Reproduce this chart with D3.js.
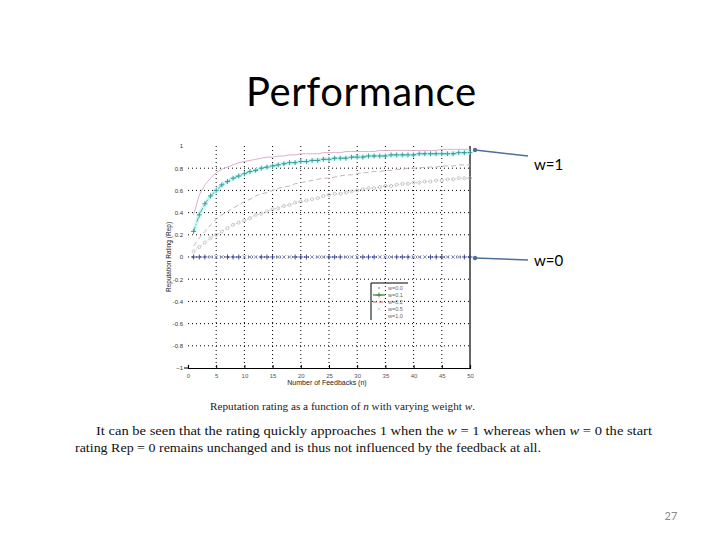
<!DOCTYPE html>
<html>
<head>
<meta charset="utf-8">
<script src="https://cdn.jsdelivr.net/npm/d3@7"></script>
<style>
  body { margin: 0; background: #fff; }
  svg { display: block; }
</style>
</head>
<body>
<svg id="slide" width="720" height="540"></svg>
<script>
// feedback counts n
const feedbacks = [1,2,3,4,5,6,7,8,9,10,11,12,13,14,15,16,17,18,19,20,21,22,23,24,25,
  26,27,28,29,30,31,32,33,34,35,36,37,38,39,40,41,42,43,44,45,46,47,48,49,50];

// rating values
const repW0 = [0,0,0,0,0,0,0,0,0,0,0,0,0,0,0,0,0,0,0,0,0,0,0,0,0,
  0,0,0,0,0,0,0,0,0,0,0,0,0,0,0,0,0,0,0,0,0,0,0,0,0];
const repCircles = [.05,.09,.13,.17,.20,.23,.26,.29,.31,.33,.35,.38,.39,.41,.43,.44,.46,.47,.49,.50,
  .51,.52,.53,.55,.56,.57,.57,.58,.59,.60,.61,.62,.62,.63,.64,.64,.65,.66,.66,.67,
  .67,.68,.68,.69,.69,.70,.70,.71,.71,.71];
const repDashed = [.10,.17,.23,.29,.34,.38,.41,.44,.47,.50,.52,.55,.57,.58,.60,.62,.63,.64,.66,.67,
  .68,.69,.70,.71,.71,.72,.73,.74,.74,.75,.76,.76,.77,.77,.78,.78,.79,.79,.80,.80,
  .80,.81,.81,.81,.82,.82,.82,.83,.83,.83];
const repCyan = [.23,.38,.48,.55,.60,.65,.68,.71,.73,.75,.77,.78,.80,.81,.82,.83,.84,.85,.85,.86,
  .86,.87,.87,.88,.88,.89,.89,.89,.90,.90,.90,.91,.91,.91,.91,.92,.92,.92,.92,.92,
  .93,.93,.93,.93,.93,.93,.93,.94,.94,.94];
const repPink = [.38,.56,.65,.71,.76,.79,.81,.83,.85,.86,.87,.88,.89,.90,.90,.91,.91,.92,.92,.93,
  .93,.93,.93,.94,.94,.94,.94,.95,.95,.95,.95,.95,.95,.96,.96,.96,.96,.96,.96,.96,
  .96,.96,.96,.96,.97,.97,.97,.97,.97,.97];

const xTicks = [0,5,10,15,20,25,30,35,40,45,50];
const yTicks = [-1,-0.8,-0.6,-0.4,-0.2,0,0.2,0.4,0.6,0.8,1];
const yTickLabels = ["\u22121","-0.8","-0.6","-0.4","-0.2","0","0.2","0.4","0.6","0.8","1"];
const legendLabels = ["w=0.0","w=0.1","w=0.2","w=0.5","w=1.0"];

const svg = d3.select("#slide");

// title
svg.append("text")
  .attr("x", 361).attr("y", 106)
  .attr("text-anchor", "middle")
  .attr("font-family", "Lato, 'Open Sans', sans-serif")
  .attr("font-size", 40)
  .attr("textLength", 230)
  .attr("fill", "#000")
  .text("Performance");

// scales
const x = d3.scaleLinear().domain([0, 50]).range([188, 470]);
const y = d3.scaleLinear().domain([-1, 1]).range([368, 146]);

const plot = svg.append("g");

// dotted grid
plot.selectAll("line.vgrid")
  .data(xTicks.slice(1, -1))
  .enter().append("line")
  .attr("x1", d => x(d)).attr("x2", d => x(d))
  .attr("y1", y(1)).attr("y2", y(-1))
  .attr("stroke", "#000").attr("stroke-width", 1)
  .attr("stroke-dasharray", "1,3");

plot.selectAll("line.hgrid")
  .data(yTicks.slice(1, -1))
  .enter().append("line")
  .attr("x1", x(0)).attr("x2", x(50))
  .attr("y1", d => y(d)).attr("y2", d => y(d))
  .attr("stroke", "#000").attr("stroke-width", 1)
  .attr("stroke-dasharray", "1,3");

// bottom axis
const xAxis = plot.append("g")
  .attr("transform", `translate(0,${y(-1)})`)
  .call(d3.axisBottom(x).tickValues(xTicks).tickSize(-3).tickPadding(6));
xAxis.select(".domain").attr("stroke", "#000").attr("stroke-width", 1.2);
xAxis.selectAll("text").attr("font-family", "'Liberation Sans', Arial").attr("font-size", 6).attr("fill", "#555");

// left axis labels only
const yAxis = plot.append("g")
  .attr("transform", `translate(${x(0)},0)`)
  .call(d3.axisLeft(y).tickValues(yTicks).tickSize(0).tickPadding(5)
    .tickFormat((d, i) => yTickLabels[i]));
yAxis.select(".domain").remove();
yAxis.selectAll("text").attr("font-family", "'Liberation Sans', Arial").attr("font-size", 6).attr("fill", "#333");
// small tick at -1
plot.append("line")
  .attr("x1", x(0) - 4).attr("x2", x(0))
  .attr("y1", y(-1)).attr("y2", y(-1))
  .attr("stroke", "#000");

// right spine
plot.append("line")
  .attr("x1", x(50)).attr("x2", x(50))
  .attr("y1", y(1)).attr("y2", y(-1))
  .attr("stroke", "#000").attr("stroke-width", 1.2);

// axis titles
plot.append("text")
  .attr("x", 327).attr("y", 385)
  .attr("text-anchor", "middle")
  .attr("font-family", "'Liberation Sans', Arial").attr("font-size", 7)
  .attr("fill", "#222")
  .text("Number of Feedbacks (n)");

plot.append("text")
  .attr("transform", "translate(171,257) rotate(-90)")
  .attr("text-anchor", "middle")
  .attr("font-family", "'Liberation Sans', Arial").attr("font-size", 6.5)
  .attr("fill", "#222")
  .text("Reputation Rating (Rep)");

const line = vals => d3.line()
  .x((d, i) => x(feedbacks[i]))
  .y(d => y(d))(vals);

// curves
plot.append("path").attr("d", line(repPink))
  .attr("fill", "none").attr("stroke", "#dcaed0").attr("stroke-width", 1);

plot.append("path").attr("d", line(repDashed))
  .attr("fill", "none").attr("stroke", "#c9b3ba").attr("stroke-width", 1)
  .attr("stroke-dasharray", "5,3");

plot.append("path").attr("d", line(repCircles))
  .attr("fill", "none").attr("stroke", "#aaa").attr("stroke-width", 0.8)
  .attr("stroke-dasharray", "1,2");
plot.selectAll("circle.c")
  .data(repCircles).enter().append("circle")
  .attr("cx", (d, i) => x(feedbacks[i])).attr("cy", d => y(d))
  .attr("r", 1.6).attr("fill", "none").attr("stroke", "#a9b0a6").attr("stroke-width", 0.6);

// cyan with halo
plot.append("path").attr("d", line(repCyan))
  .attr("fill", "none").attr("stroke", "#d2f7f7").attr("stroke-width", 4);
plot.append("path").attr("d", line(repCyan))
  .attr("fill", "none").attr("stroke", "#3aa8a2").attr("stroke-width", 0.9)
  .attr("stroke-dasharray", "5,2,1,2");
const plusPath = "M-2.5,0H2.5M0,-2.5V2.5";
plot.selectAll("path.cp")
  .data(repCyan).enter().append("path")
  .attr("d", plusPath)
  .attr("transform", (d, i) => `translate(${x(feedbacks[i])},${y(d)})`)
  .attr("stroke", "#2a9a94").attr("stroke-width", 0.9);

// zero series
plot.selectAll("path.zp")
  .data(repW0).enter().append("path")
  .attr("d", (d, i) => i % 6 < 3 ? plusPath : "M-1.8,-1.8L1.8,1.8M-1.8,1.8L1.8,-1.8")
  .attr("transform", (d, i) => `translate(${x(feedbacks[i])},${y(d)})`)
  .attr("stroke", (d, i) => i % 6 < 3 ? "#2c3b9c" : "#7b84c4").attr("stroke-width", 0.9);

// legend
const lg = plot.append("g").attr("transform", "translate(371,283)");
lg.append("path").attr("d", "M0,37V0H37").attr("fill", "none").attr("stroke", "#000").attr("stroke-width", 1);
const lgColors = ["#999", "#3b7a2e", "#c0504d", "#a8e0e6", "#fff"];
lg.selectAll("g.item")
  .data(legendLabels).enter().append("g")
  .attr("transform", (d, i) => `translate(0,${5 + i * 7})`)
  .each(function(d, i) {
    const g = d3.select(this);
    if (i === 0) g.append("circle").attr("cx", 8).attr("cy", 0).attr("r", 0.9).attr("fill", lgColors[0]);
    if (i === 1) {
      g.append("line").attr("x1", 2).attr("x2", 14).attr("y1", 0).attr("y2", 0).attr("stroke", lgColors[1]).attr("stroke-width", 1.2);
      g.append("path").attr("d", plusPath).attr("transform", "translate(8,0)").attr("stroke", lgColors[1]).attr("stroke-width", 0.8);
    }
    if (i === 2) g.append("line").attr("x1", 2).attr("x2", 14).attr("y1", 0).attr("y2", 0)
      .attr("stroke", lgColors[2]).attr("stroke-width", 1).attr("stroke-dasharray", "4,2");
    if (i === 3) g.append("path").attr("d", "M-1.5,-1.5L1.5,1.5M-1.5,1.5L1.5,-1.5").attr("transform", "translate(8,0)")
      .attr("stroke", lgColors[3]).attr("stroke-width", 0.8);
    g.append("text").attr("x", 17).attr("y", 2)
      .attr("font-family", "'Liberation Sans', Arial").attr("font-size", 5.5).attr("fill", "#666")
      .text(d);
  });

// annotations
const notes = [
  { label: "w=1", from: [475, 150], to: [528, 156], ty: 170 },
  { label: "w=0", from: [475, 258], to: [528, 260], ty: 266 }
];
notes.forEach(nt => {
  svg.append("line")
    .attr("x1", nt.from[0]).attr("y1", nt.from[1])
    .attr("x2", nt.to[0]).attr("y2", nt.to[1])
    .attr("stroke", "#4f6f98").attr("stroke-width", 1.6);
  svg.append("circle").attr("cx", nt.from[0]).attr("cy", nt.from[1]).attr("r", 2.2).attr("fill", "#4f6f98");
  svg.append("text").attr("x", 534).attr("y", nt.ty)
    .attr("font-family", "Lato, 'Open Sans', sans-serif").attr("font-size", 15)
    .attr("fill", "#000").text(nt.label);
});

// caption + paragraph
svg.append("text")
  .attr("x", 210).attr("y", 410)
  .attr("font-family", "'Liberation Serif', 'DejaVu Serif', serif").attr("font-size", 10)
  .attr("textLength", 265).attr("lengthAdjust", "spacingAndGlyphs")
  .attr("fill", "#222")
  .html("Reputation rating as a function of <tspan font-style='italic'>n</tspan> with varying weight <tspan font-style='italic'>w</tspan>.");

svg.append("text")
  .attr("x", 96).attr("y", 435)
  .attr("font-family", "'Liberation Serif', 'DejaVu Serif', serif").attr("font-size", 13.5)
  .attr("textLength", 556).attr("lengthAdjust", "spacingAndGlyphs")
  .attr("fill", "#111")
  .html("It can be seen that the rating quickly approaches 1 when the <tspan font-style='italic'>w</tspan> = 1 whereas when <tspan font-style='italic'>w</tspan> = 0 the start");

svg.append("text")
  .attr("x", 75).attr("y", 452)
  .attr("font-family", "'Liberation Serif', 'DejaVu Serif', serif").attr("font-size", 13.5)
  .attr("textLength", 466).attr("lengthAdjust", "spacingAndGlyphs")
  .attr("fill", "#111")
  .text("rating Rep = 0 remains unchanged and is thus not influenced by the feedback at all.");

// page number
svg.append("text")
  .attr("x", 671).attr("y", 520)
  .attr("text-anchor", "middle")
  .attr("font-family", "Lato, 'Open Sans', sans-serif").attr("font-size", 11)
  .attr("fill", "#8a8a8a")
  .text("27");
</script>
</body>
</html>
